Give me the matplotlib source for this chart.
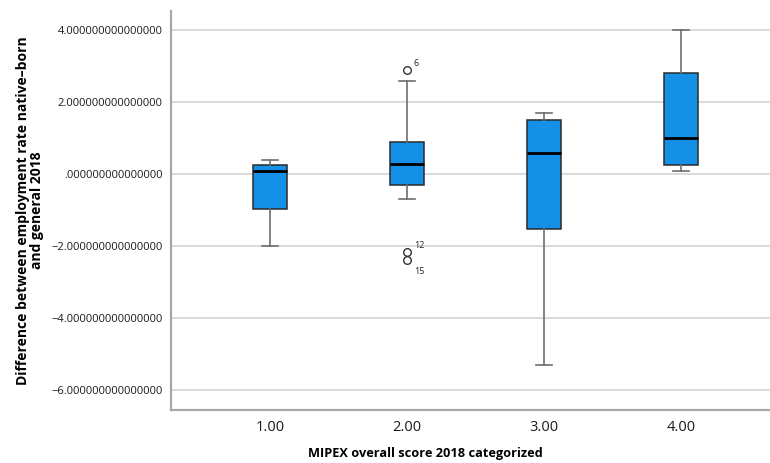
import matplotlib.pyplot as plt

# Five-number summaries per MIPEX category (read as box statistics)
categories = ['1.00', '2.00', '3.00', '4.00']
whisker_low = [-2.00, -0.70, -5.31, 0.08]
q1 = [-0.96, -0.31, -1.52, 0.24]
median = [0.09, 0.29, 0.59, 1.00]
q3 = [0.24, 0.89, 1.49, 2.80]
whisker_high = [0.39, 2.58, 1.69, 3.99]

# Outliers: (category index, value, case label)
outlier_cat = [1, 1, 1]
outlier_val = [2.89, -2.18, -2.40]
outlier_lbl = ['6', '12', '15']

plt.rcParams['font.family'] = ['Open Sans', 'DejaVu Sans']

stats = []
for i in range(len(categories)):
    fl = [v for c, v in zip(outlier_cat, outlier_val) if c == i]
    stats.append({'whislo': whisker_low[i], 'q1': q1[i], 'med': median[i],
                  'q3': q3[i], 'whishi': whisker_high[i], 'fliers': fl,
                  'label': categories[i]})

fig = plt.figure(figsize=(7.7, 4.63), dpi=100)
ax = fig.add_axes([171 / 770, 53 / 463, 599 / 770, 399 / 463])

ax.bxp(stats, positions=[1, 2, 3, 4], widths=0.25, patch_artist=True,
       boxprops=dict(facecolor='#1490E6', edgecolor='#2a2a2a', linewidth=1.1),
       medianprops=dict(color='black', linewidth=2),
       whiskerprops=dict(color='#6e6e6e', linewidth=1.2),
       capprops=dict(color='#6e6e6e', linewidth=1.2),
       capwidths=0.12,
       flierprops=dict(marker='o', markerfacecolor='white', markeredgecolor='#333333',
                       markersize=5.5, markeredgewidth=1.0),
       zorder=3)

# Case labels next to outliers
offsets = {'6': (5, 5), '12': (5, 5), '15': (5, -8)}
for c, v, lbl in zip(outlier_cat, outlier_val, outlier_lbl):
    dx, dy = offsets[lbl]
    ax.annotate(lbl, (c + 1, v), xytext=(dx, dy), textcoords='offset points',
                fontsize=6.5, color='#222222', va='center', ha='left')

ax.set_xlim(0.277, 4.65)
ax.set_ylim(-6.56, 4.53)
ax.set_yticks([4, 2, 0, -2, -4, -6])


def fmt(v):
    s = '%.15f' % abs(v)
    if s.startswith('0'):
        s = s[1:]
    return ('\u2212' if v < 0 else '') + s


ax.set_yticklabels([fmt(v) for v in [4, 2, 0, -2, -4, -6]], fontsize=8, color='#1a1a1a')
ax.set_xticks([1, 2, 3, 4])
ax.set_xticklabels(categories, fontsize=10.5, color='#1a1a1a')
ax.tick_params(axis='both', length=0, pad=6)
ax.tick_params(axis='x', pad=7)

ax.grid(axis='y', color='#d4d4d4', linewidth=1.2, zorder=0)
ax.set_axisbelow(True)
for side in ['top', 'right']:
    ax.spines[side].set_visible(False)
for side in ['left', 'bottom']:
    ax.spines[side].set_color('#a8a8a8')
    ax.spines[side].set_linewidth(1.6)

ax.set_xlabel('MIPEX overall score 2018 categorized', fontsize=9.2, fontweight='bold')
ax.xaxis.set_label_coords((425 - 171) / 599, -0.092)
ax.set_ylabel('Difference between employment rate native\u2013born\nand general 2018',
              fontsize=10, fontweight='bold', linespacing=1.0)
ax.yaxis.set_label_coords(-0.212, 0.5)

fig.savefig('out.png', dpi=100)
